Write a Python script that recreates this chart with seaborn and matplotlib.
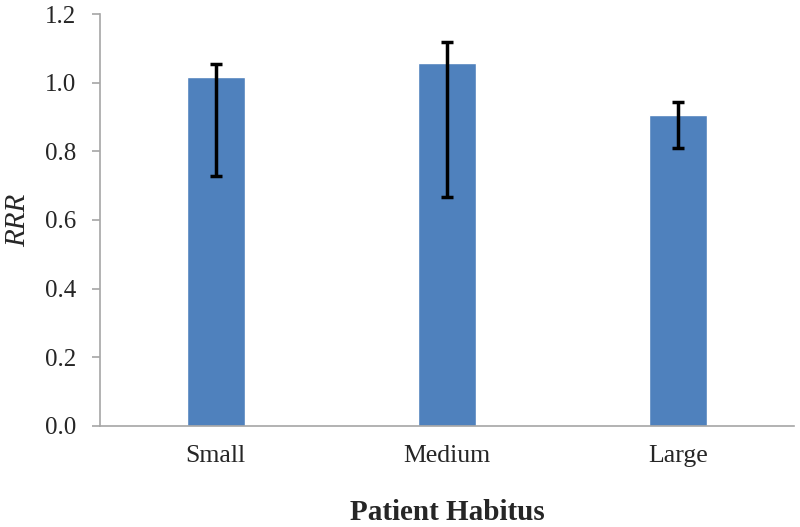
import pandas as pd
import matplotlib
matplotlib.use('Agg')
import matplotlib.pyplot as plt
import seaborn as sns
import numpy as np

# Values
categories = ['Small', 'Medium', 'Large']
rrr = [1.017, 1.058, 0.906]
ci_low = [0.728, 0.668, 0.811]
ci_high = [1.055, 1.118, 0.943]

data = pd.DataFrame({'Habitus': categories, 'RRR': rrr})

sns.set_style('white')
plt.rcParams['font.family'] = ['Liberation Serif', 'DejaVu Serif']

fig = plt.figure(figsize=(8, 5.27), dpi=100)
ax = fig.add_axes([0.125, 0.1917, 0.8675, 0.7817])

sns.barplot(x='Habitus', y='RRR', data=data, color='#4F81BD', saturation=1,
            width=0.25, errorbar=None, ax=ax)

yerr = np.array([np.array(rrr) - np.array(ci_low), np.array(ci_high) - np.array(rrr)])
ax.errorbar(np.arange(len(categories)), rrr, yerr=yerr, fmt='none',
            ecolor='black', elinewidth=2.5, capsize=4, capthick=2.5)

ax.set_xlim(-0.5, 2.5)
ax.set_ylim(0, 1.2)
ax.set_yticks(np.arange(0, 1.21, 0.2))
ax.set_yticklabels([f'{v:.1f}' for v in np.arange(0, 1.21, 0.2)])

for s in ['top', 'right']:
    ax.spines[s].set_visible(False)
for s in ['left', 'bottom']:
    ax.spines[s].set_color('#A6A6A6')
    ax.spines[s].set_linewidth(1.2)

ax.tick_params(axis='y', direction='out', length=6, width=1.2, color='#A6A6A6',
               pad=11, labelsize=18, left=True)
ax.tick_params(axis='x', length=0, pad=14, labelsize=18.5)

ax.set_xlabel('Patient Habitus', fontsize=21, fontweight='bold', labelpad=23)
ax.set_ylabel('RRR', fontsize=21, fontstyle='italic', labelpad=10)

fig.savefig('out.png', dpi=100)
